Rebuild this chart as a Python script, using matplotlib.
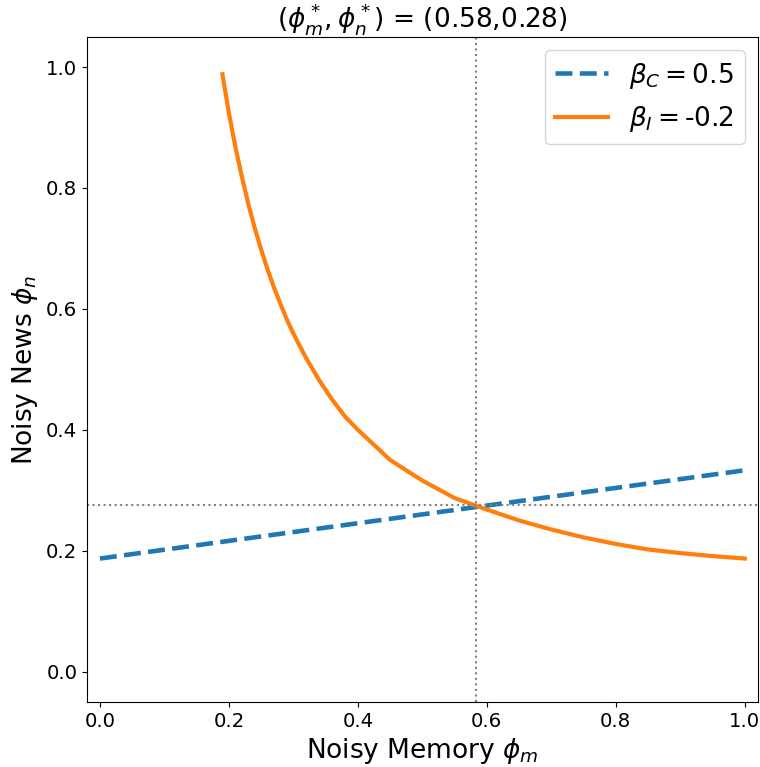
import matplotlib
matplotlib.use('Agg')
import matplotlib.pyplot as plt
import numpy as np

# Curva de reaccion lineal (beta_C)
x_c = [0.0, 1.0]
y_c = [0.187, 0.333]

# Curva de reaccion (beta_I)
x_i = [0.19, 0.20, 0.21, 0.22, 0.23, 0.24, 0.25, 0.26, 0.27, 0.28, 0.29, 0.30,
       0.32, 0.34, 0.36, 0.38, 0.40, 0.45, 0.50, 0.55, 0.60, 0.65, 0.70,
       0.75, 0.80, 0.85, 0.90, 0.95, 1.0]
y_i = [0.988, 0.924, 0.868, 0.819, 0.774, 0.734, 0.698, 0.665, 0.635, 0.608,
       0.582, 0.559, 0.518, 0.482, 0.450, 0.422, 0.400, 0.350, 0.316, 0.287,
       0.268, 0.250, 0.235, 0.222, 0.211, 0.202, 0.196, 0.191, 0.187]

# Punto de equilibrio
phi_m_eq = 0.583
phi_n_eq = 0.275

fig = plt.figure(figsize=(7.6, 7.67), dpi=100)
ax = fig.add_subplot(111)
fig.subplots_adjust(left=0.1145, right=0.997, top=0.952, bottom=0.085)

ax.plot(x_c, y_c, '--', lw=3.3, color='tab:blue', label=r'$\beta_C = 0.5$')
ax.plot(x_i, y_i, '-', lw=3, color='tab:orange', label=r'$\beta_I = $-0.2')

# Lineas de puntos en el equilibrio
ax.axvline(phi_m_eq, ls=':', color='gray')
ax.axhline(phi_n_eq, ls=':', color='gray')

ax.set_xlim(-0.02, 1.02)
ax.set_ylim(-0.05, 1.05)
ax.set_title(r'$(\phi_m^*, \phi_n^*)$ = (%.2f,%.2f)' % (phi_m_eq, phi_n_eq), fontsize=19)
ax.set_xlabel(r'Noisy Memory $\phi_m$', fontsize=19)
ax.set_ylabel(r'Noisy News $\phi_n$', fontsize=19)
ax.tick_params(labelsize=14.25)
ax.legend(fontsize=19, loc='upper right')

plt.savefig('out.png')
